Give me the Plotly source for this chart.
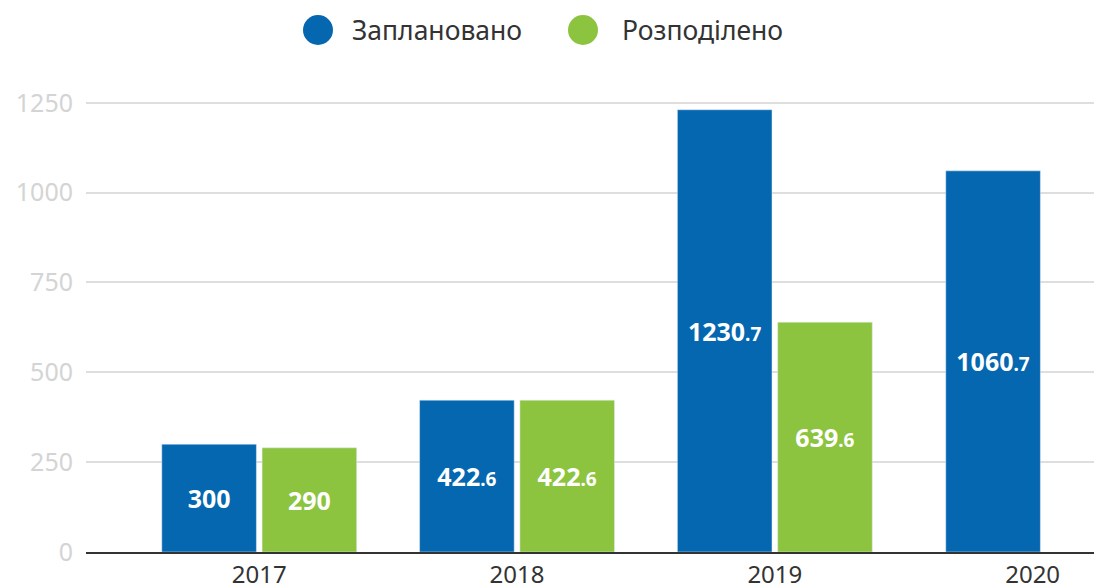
import plotly.graph_objects as go

years = ["2017", "2018", "2019", "2020"]
planned = [300, 422.6, 1230.7, 1060.7]
distributed = [290, 422.6, 639.6, None]
series_names = ["Заплановано", "Розподілено"]
y_ticks = [0, 250, 500, 750, 1000, 1250]

BLUE = "#0467B0"
GREEN = "#8DC43F"
FONT = "Noto Sans"


def fmt(v):
    if v is None:
        return ""
    s = f"{v:g}"
    if "." in s:
        a, b = s.split(".")
        return f"<b>{a}<span style='font-size:19px'>.{b}</span></b>"
    return f"<b>{s}</b>"


W = 0.367
fig = go.Figure()
fig.add_trace(go.Bar(
    x=years, y=planned, name=series_names[0], marker_color=BLUE,
    width=W, offset=[-0.378, -0.378, -0.378, -0.337],
    text=[fmt(v) for v in planned], textposition="inside",
    insidetextanchor="middle", constraintext="none",
    textfont=dict(family=FONT, size=25, color="white"),
    showlegend=False, hoverinfo="skip",
))
fig.add_trace(go.Bar(
    x=years, y=distributed, name=series_names[1], marker_color=GREEN,
    width=W, offset=0.011,
    text=[fmt(v) for v in distributed], textposition="inside",
    insidetextanchor="middle", constraintext="none",
    textfont=dict(family=FONT, size=25, color="white"),
    showlegend=False, hoverinfo="skip",
))

L, T, B = 86, 80, 36
H = 588 - T - B
fig.update_layout(
    width=1094, height=588,
    margin=dict(l=L, r=0, t=T, b=B, pad=0, autoexpand=False),
    barmode="overlay",
    plot_bgcolor="white", paper_bgcolor="white",
    font=dict(family=FONT, color="#333333"),
    showlegend=False,
    xaxis=dict(
        type="category", range=[-0.672, 3.238], automargin=False,
        showgrid=False, showline=True, linecolor="#333333", linewidth=2,
        ticks="", tickfont=dict(size=24, color="#333333"),
        ticklabelstandoff=0,
    ),
    yaxis=dict(
        range=[0, H / 0.35936], tickvals=y_ticks, automargin=False,
        showgrid=True, gridcolor="#dedede", gridwidth=2,
        zeroline=False, showline=False, ticks="",
        tickfont=dict(size=25, color="#d4d4d4"),
        ticklabelstandoff=12,
    ),
)

# legend drawn manually with large circles
py = (552 - 30) / H
for i, (name, col, cx, tx) in enumerate([
    (series_names[0], BLUE, 318, 350),
    (series_names[1], GREEN, 583, 620),
]):
    xp = (cx - L) / (1094 - L)
    fig.add_shape(type="circle", xref="paper", yref="paper",
                  xsizemode="pixel", ysizemode="pixel",
                  xanchor=xp, yanchor=py, x0=-15, x1=15, y0=-15, y1=15,
                  fillcolor=col, line=dict(width=0))
    fig.add_annotation(text=name, xref="paper", yref="paper",
                       x=(tx - L) / (1094 - L), y=py, xanchor="left",
                       yanchor="middle", showarrow=False,
                       font=dict(family=FONT, size=26.5, color="#333333"))

fig.write_html("out.html", config={"displayModeBar": False},
               post_script="document.body.style.margin='0';document.body.style.overflow='hidden';")
